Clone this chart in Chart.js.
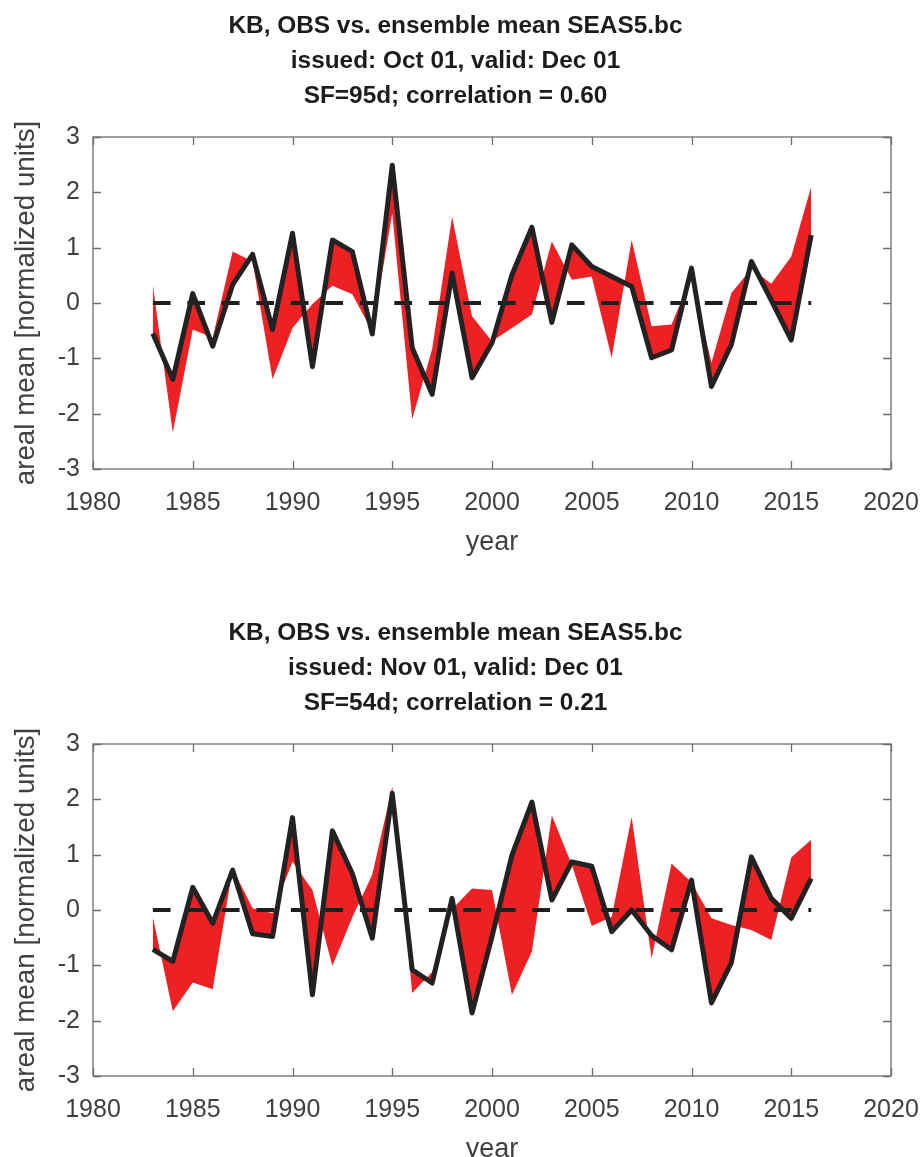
<!DOCTYPE html>
<html>
<head>
<meta charset="utf-8">
<title>KB, OBS vs. ensemble mean SEAS5.bc</title>
<script src="https://cdn.jsdelivr.net/npm/chart.js@4.4.1/dist/chart.umd.min.js"></script>
<style>
  html, body { margin: 0; padding: 0; background: #fff; }
  body { width: 924px; height: 1157px; overflow: hidden; position: relative; }
  canvas { position: absolute; left: 0; }
  #octChart { top: 0; }
  #novChart { top: 607px; }
</style>
</head>
<body>
<canvas id="octChart" width="924" height="578"></canvas>
<canvas id="novChart" width="924" height="578"></canvas>
<script>
// Years of the hindcast period
const years = [1983, 1984, 1985, 1986, 1987, 1988, 1989, 1990, 1991, 1992,
               1993, 1994, 1995, 1996, 1997, 1998, 1999, 2000, 2001, 2002,
               2003, 2004, 2005, 2006, 2007, 2008, 2009, 2010, 2011, 2012,
               2013, 2014, 2015, 2016];

// Forecast issued Oct 01: observations and SEAS5.bc ensemble mean (normalized)
const obsOct = [-0.55, -1.38, 0.17, -0.78, 0.33, 0.88, -0.48, 1.26, -1.15, 1.14,
                0.93, -0.56, 2.49, -0.81, -1.65, 0.54, -1.35, -0.72, 0.51, 1.37,
                -0.35, 1.05, 0.66, 0.48, 0.30, -0.99, -0.85, 0.63, -1.51, -0.75,
                0.75, 0.05, -0.67, 1.23];
const ensOct = [0.33, -2.34, -0.48, -0.63, 0.93, 0.75, -1.38, -0.45, -0.02, 0.31,
                0.16, -0.52, 1.62, -2.10, -0.83, 1.56, -0.24, -0.69, -0.45, -0.21,
                1.11, 0.42, 0.48, -0.99, 1.14, -0.42, -0.39, 0.48, -1.08, 0.18,
                0.62, 0.35, 0.84, 2.10];

// Forecast issued Nov 01: observations and SEAS5.bc ensemble mean (normalized)
const obsNov = [-0.71, -0.93, 0.41, -0.24, 0.72, -0.43, -0.48, 1.67, -1.53, 1.43,
                0.66, -0.51, 2.11, -1.08, -1.32, 0.21, -1.86, -0.48, 0.99, 1.95,
                0.18, 0.87, 0.79, -0.39, 0.00, -0.46, -0.72, 0.54, -1.68, -0.95,
                0.96, 0.21, -0.15, 0.57];
const ensNov = [-0.12, -1.83, -1.31, -1.43, 0.75, 0.03, -0.06, 0.87, 0.36, -1.01,
                -0.13, 0.64, 2.23, -1.50, -1.12, 0.02, 0.39, 0.36, -1.53, -0.75,
                1.71, 0.82, -0.29, -0.12, 1.68, -0.87, 0.84, 0.50, -0.15, -0.27,
                -0.36, -0.54, 0.95, 1.27];

// Axis tick values
const xTicks = [1980, 1985, 1990, 1995, 2000, 2005, 2010, 2015, 2020];
const yTicks = [-3, -2, -1, 0, 1, 2, 3];

const octTitle = ['KB, OBS vs. ensemble mean SEAS5.bc',
                  'issued: Oct 01, valid: Dec 01',
                  'SF=95d; correlation = 0.60'];
const novTitle = ['KB, OBS vs. ensemble mean SEAS5.bc',
                  'issued: Nov 01, valid: Dec 01',
                  'SF=54d; correlation = 0.21'];

const FONT = "'Liberation Sans', Arial, Helvetica, sans-serif";
const TEXT = '#404040';

// Box around the plot area with inward tick marks on all four sides
const framePlugin = {
  id: 'frame',
  afterDraw(chart) {
    const {ctx, chartArea: a, scales: {x, y}} = chart;
    const len = 8;
    ctx.save();
    ctx.strokeStyle = '#6e6e6e';
    ctx.lineWidth = 1.3;
    ctx.beginPath();
    xTicks.forEach(v => {
      const px = Math.round(x.getPixelForValue(v)) + 0.5;
      ctx.moveTo(px, a.bottom); ctx.lineTo(px, a.bottom - len);
      ctx.moveTo(px, a.top); ctx.lineTo(px, a.top + len);
    });
    yTicks.forEach(v => {
      const py = Math.round(y.getPixelForValue(v)) + 0.5;
      ctx.moveTo(a.left, py); ctx.lineTo(a.left + len, py);
      ctx.moveTo(a.right, py); ctx.lineTo(a.right - len, py);
    });
    ctx.stroke();
    ctx.strokeRect(a.left, a.top, a.right - a.left, a.bottom - a.top);
    ctx.restore();
  }
};

function points(vals) {
  return years.map((yr, i) => ({x: yr, y: vals[i]}));
}

function makeChart(id, titleLines, obs, ens) {
  return new Chart(document.getElementById(id), {
    type: 'line',
    data: {
      datasets: [
        {
          label: 'OBS',
          data: points(obs),
          borderColor: '#222222',
          borderWidth: 5,
          borderJoinStyle: 'round',
          pointRadius: 0,
          tension: 0,
          fill: false
        },
        {
          label: 'zero',
          data: [{x: years[0], y: 0}, {x: years[years.length - 1], y: 0}],
          borderColor: '#1e1e1e',
          borderWidth: 4,
          borderDash: [17.7, 16.8],
          pointRadius: 0,
          fill: false
        },
        {
          label: 'ensemble mean SEAS5.bc',
          data: points(ens),
          borderColor: 'rgba(0,0,0,0)',
          borderWidth: 0,
          backgroundColor: '#ed2024',
          pointRadius: 0,
          tension: 0,
          fill: '-2'
        }
      ]
    },
    options: {
      responsive: false,
      animation: false,
      events: [],
      layout: {padding: {top: 0, left: 20, right: 33, bottom: 0}},
      plugins: {
        legend: {display: false},
        tooltip: {enabled: false},
        title: {
          display: true,
          text: titleLines,
          color: '#1c1c1c',
          font: {family: FONT, size: 24.4, weight: 'bold', lineHeight: '35px'},
          padding: {top: 9, bottom: 23}
        }
      },
      scales: {
        x: {
          type: 'linear',
          min: xTicks[0],
          max: xTicks[xTicks.length - 1],
          afterBuildTicks: s => { s.ticks = xTicks.map(v => ({value: v})); },
          afterFit: s => { s.height = 109; s.paddingLeft = 0; s.paddingRight = 0; },
          grid: {display: false, drawTicks: false},
          border: {display: false},
          ticks: {
            color: TEXT,
            padding: 19,
            maxRotation: 0,
            autoSkip: false,
            font: {family: FONT, size: 25},
            callback: v => String(v)
          },
          title: {
            display: true,
            text: 'year',
            color: TEXT,
            font: {family: FONT, size: 27},
            padding: {top: 0, bottom: 19}
          }
        },
        y: {
          type: 'linear',
          min: yTicks[0],
          max: yTicks[yTicks.length - 1],
          afterBuildTicks: s => { s.ticks = yTicks.map(v => ({value: v})); },
          afterFit: s => { s.width = 73; s.paddingTop = 0; s.paddingBottom = 0; },
          grid: {display: false, drawTicks: false},
          border: {display: false},
          ticks: {
            color: TEXT,
            padding: 13,
            font: {family: FONT, size: 25},
            callback: v => String(v)
          },
          title: {
            display: true,
            text: 'areal mean [normalized units]',
            color: TEXT,
            font: {family: FONT, size: 27.8},
            padding: {top: -10, bottom: 0}
          }
        }
      }
    },
    plugins: [framePlugin]
  });
}

makeChart('octChart', octTitle, obsOct, ensOct);
makeChart('novChart', novTitle, obsNov, ensNov);
</script>
</body>
</html>
